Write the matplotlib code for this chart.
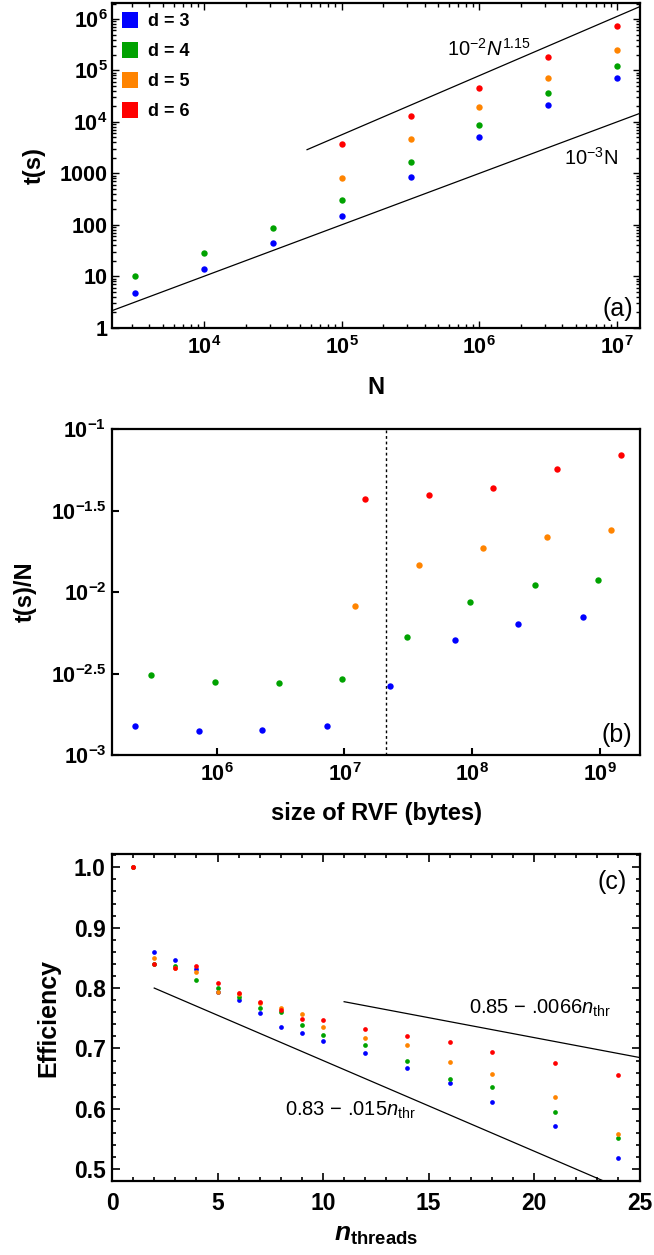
import numpy as np
import matplotlib
matplotlib.use("Agg")
import matplotlib.pyplot as plt
from matplotlib.ticker import (FixedLocator, FixedFormatter, MultipleLocator,
                               LogLocator, NullLocator, NullFormatter)
from matplotlib.lines import Line2D

plt.rcParams.update({
    "font.family": ["Liberation Sans", "DejaVu Sans"],
    "mathtext.fontset": "custom",
    "mathtext.rm": "Liberation Sans",
    "mathtext.it": "Liberation Sans:italic",
    "mathtext.bf": "Liberation Sans:bold",
    "mathtext.bfit": "Liberation Sans:italic:bold",
})

COLORS = ["#0000ff", "#00a200", "#ff8400", "#ff0000"]
LABELS = ["d = 3", "d = 4", "d = 5", "d = 6"]

# ---- panel (a): run time vs N ----
N_all = [3162, 1e4, 31623, 1e5, 316228, 1e6, 3162278, 1e7]
N_big = [1e5, 316228, 1e6, 3162278, 1e7]
t_d3 = [4.7, 13.8, 45, 150, 850, 5150, 21000, 72000]
t_d4 = [10, 28, 88, 300, 1690, 8800, 36000, 124000]
t_d5 = [825, 4700, 19200, 70000, 250000]
t_d6 = [3700, 12800, 45000, 185000, 730000]

# ---- panel (b): time per point vs RVF size ----
size_d3 = [2.28e5, 7.21e5, 2.28e6, 7.29e6, 2.29e7, 7.28e7, 2.29e8, 7.29e8]
size_d4 = [3.08e5, 9.64e5, 3.06e6, 9.64e6, 3.07e7, 9.66e7, 3.08e8, 9.68e8]
size_d5 = [1.21e7, 3.85e7, 1.21e8, 3.85e8, 1.21e9]
size_d6 = [1.46e7, 4.6e7, 1.45e8, 4.57e8, 1.45e9]
tN_d3 = [1.51e-3, 1.41e-3, 1.43e-3, 1.51e-3, 2.67e-3, 5.07e-3, 6.40e-3, 7.0e-3]
tN_d4 = [3.10e-3, 2.80e-3, 2.76e-3, 2.95e-3, 5.32e-3, 8.65e-3, 1.11e-2, 1.19e-2]
tN_d5 = [8.2e-3, 1.47e-2, 1.88e-2, 2.17e-2, 2.40e-2]
tN_d6 = [3.71e-2, 3.96e-2, 4.36e-2, 5.68e-2, 6.98e-2]
cache_size = 2.1e7

# ---- panel (c): parallel efficiency ----
n_thr = [1, 2, 3, 4, 5, 6, 7, 8, 9, 10, 12, 14, 16, 18, 21, 24]
eff_d3 = [1.0, 0.859, 0.846, 0.832, 0.793, 0.781, 0.759, 0.735, 0.726, 0.712,
          0.692, 0.667, 0.642, 0.612, 0.572, 0.518]
eff_d4 = [1.0, 0.840, 0.836, 0.813, 0.800, 0.786, 0.767, 0.760, 0.739, 0.722,
          0.705, 0.680, 0.650, 0.636, 0.594, 0.552]
eff_d5 = [1.0, 0.850, 0.833, 0.826, 0.794, 0.790, 0.776, 0.767, 0.757, 0.736,
          0.717, 0.705, 0.678, 0.658, 0.620, 0.558]
eff_d6 = [1.0, 0.840, 0.833, 0.836, 0.808, 0.792, 0.777, 0.764, 0.749, 0.747,
          0.732, 0.721, 0.711, 0.694, 0.676, 0.656]

TICK_FS = 15.5
LABEL_FS = 17

fig = plt.figure(figsize=(6.54, 12.55), dpi=100)


def frame(ax):
    for s in ax.spines.values():
        s.set_linewidth(1.6)


# ================= (a) =================
ax = fig.add_axes([0.1713, 0.7389, 0.8066, 0.2587])
frame(ax)
ax.set_xscale("log")
ax.set_yscale("log")
ax.set_xlim(2143, 1.46e7)
ax.set_ylim(1, 2.05e6)

xs = [(N_all, t_d3), (N_all, t_d4), (N_big, t_d5), (N_big, t_d6)]
for (x, y), c in zip(xs, COLORS):
    ax.plot(x, y, "o", color=c, markersize=4.6, markeredgewidth=0)

xl = np.array(ax.get_xlim())
ax.plot(xl, 1e-3 * xl, color="black", lw=0.9)
xu = np.array([5.6e4, xl[1]])
ax.plot(xu, 1e-2 * xu ** 1.15, color="black", lw=0.9)
ax.text(5.83e5, 2.6e5, r"$\mathrm{10^{-2}}\mathit{N}^{\mathrm{1.15}}$",
        fontsize=14.5, va="center", ha="left")
ax.text(4.13e6, 2000, r"$\mathrm{10^{-3}N}$", fontsize=14.5, va="center", ha="left")

ax.xaxis.set_major_locator(FixedLocator([1e4, 1e5, 1e6, 1e7]))
ax.xaxis.set_major_formatter(FixedFormatter(
    [r"$\mathbf{10^{4}}$", r"$\mathbf{10^{5}}$", r"$\mathbf{10^{6}}$", r"$\mathbf{10^{7}}$"]))
ax.xaxis.set_minor_locator(LogLocator(base=10, subs=np.arange(2, 10), numticks=20))
ax.xaxis.set_minor_formatter(NullFormatter())
ax.yaxis.set_major_locator(FixedLocator([1, 10, 100, 1000, 1e4, 1e5, 1e6]))
ax.yaxis.set_major_formatter(FixedFormatter(
    ["1", "10", "100", "1000", r"$\mathbf{10^{4}}$", r"$\mathbf{10^{5}}$", r"$\mathbf{10^{6}}$"]))
ax.yaxis.set_minor_locator(LogLocator(base=10, subs=np.arange(2, 10), numticks=20))
ax.yaxis.set_minor_formatter(NullFormatter())
ax.tick_params(which="both", direction="in", top=True, right=True, width=1)
ax.tick_params(which="major", length=5, labelsize=TICK_FS)
ax.tick_params(which="minor", length=3)
ax.tick_params(axis="x", pad=6)
ax.tick_params(axis="y", pad=3)
for lab in ax.get_yticklabels() + ax.get_xticklabels():
    lab.set_fontweight("bold")
ax.set_xlabel("N", fontsize=LABEL_FS, fontweight="bold", labelpad=12)
ax.set_ylabel("t(s)", fontsize=LABEL_FS, fontweight="bold", labelpad=10)
ax.text(0.988, 0.02, "(a)", transform=ax.transAxes, fontsize=18, ha="right", va="bottom")

handles = [Line2D([], [], marker="s", linestyle="none", color=c, markersize=11,
                  markeredgewidth=0) for c in COLORS]
leg = ax.legend(handles, LABELS, loc="upper left", frameon=False,
                prop={"weight": "bold", "size": 13}, handlelength=0.9,
                handletextpad=0.55, labelspacing=0.72, borderaxespad=0.25,
                borderpad=0.3)

# ================= (b) =================
ax = fig.add_axes([0.172, 0.3984, 0.806, 0.2595])
frame(ax)
ax.set_xscale("log")
ax.set_yscale("log")
ax.set_xlim(1.53e5, 2.04e9)
ax.set_ylim(1e-3, 1e-1)
pts = [(size_d3, tN_d3), (size_d4, tN_d4), (size_d5, tN_d5), (size_d6, tN_d6)]
for (x, y), c in zip(pts, COLORS):
    ax.plot(x, y, "o", color=c, markersize=4.6, markeredgewidth=0)
ax.axvline(cache_size, color="black", lw=1, linestyle=(0, (2, 2)))

ax.xaxis.set_major_locator(FixedLocator([1e6, 1e7, 1e8, 1e9]))
ax.xaxis.set_major_formatter(FixedFormatter(
    [r"$\mathbf{10^{6}}$", r"$\mathbf{10^{7}}$", r"$\mathbf{10^{8}}$", r"$\mathbf{10^{9}}$"]))
ax.xaxis.set_minor_locator(NullLocator())
ax.yaxis.set_major_locator(FixedLocator([1e-3, 10 ** -2.5, 1e-2, 10 ** -1.5, 1e-1]))
ax.yaxis.set_major_formatter(FixedFormatter(
    [r"$\mathbf{10^{-3}}$", r"$\mathbf{10^{-2.5}}$", r"$\mathbf{10^{-2}}$",
     r"$\mathbf{10^{-1.5}}$", r"$\mathbf{10^{-1}}$"]))
ax.yaxis.set_minor_locator(NullLocator())
ax.tick_params(which="major", direction="in", length=5, width=1.5, labelsize=TICK_FS)
ax.tick_params(axis="x", pad=6)
ax.tick_params(axis="y", pad=4.5)
ax.set_xlabel("size of RVF (bytes)", fontsize=LABEL_FS, fontweight="bold", labelpad=11)
ax.set_ylabel("t(s)/N", fontsize=LABEL_FS, fontweight="bold", labelpad=10)
ax.text(0.985, 0.025, "(b)", transform=ax.transAxes, fontsize=18, ha="right", va="bottom")

# ================= (c) =================
ax = fig.add_axes([0.1713, 0.0590, 0.8066, 0.2603])
frame(ax)
ax.set_xlim(0, 25)
ax.set_ylim(0.4806, 1.0215)
effs = [eff_d3, eff_d4, eff_d5, eff_d6]
for y, c in zip(effs, COLORS):
    ax.plot(n_thr, y, "o", color=c, markersize=3.4, markeredgewidth=0)

nl = np.array([2, 25])
ax.plot(nl, 0.83 - 0.015 * nl, color="black", lw=0.9)
nu = np.array([11, 25])
ax.plot(nu, 0.85 - 0.0066 * nu, color="black", lw=0.9)
ax.text(16.9, 0.767, "0.85 \u2212 .0066$\\mathit{n}_{\\mathrm{thr}}$", fontsize=14.5,
        va="center", ha="left")
ax.text(8.18, 0.598, "0.83 \u2212 .015$\\mathit{n}_{\\mathrm{thr}}$", fontsize=14.5,
        va="center", ha="left")

ax.xaxis.set_major_locator(MultipleLocator(5))
ax.xaxis.set_minor_locator(MultipleLocator(1))
ax.yaxis.set_major_locator(FixedLocator([0.5, 0.6, 0.7, 0.8, 0.9, 1.0]))
ax.yaxis.set_major_formatter(FixedFormatter(["0.5", "0.6", "0.7", "0.8", "0.9", "1.0"]))
ax.yaxis.set_minor_locator(MultipleLocator(0.02))
ax.tick_params(which="both", direction="in", top=True, right=True, width=1.2)
ax.tick_params(which="major", length=6, labelsize=TICK_FS + 1)
ax.tick_params(which="minor", length=3)
ax.tick_params(axis="x", pad=8)
ax.tick_params(axis="y", pad=4.5)
for lab in ax.get_yticklabels() + ax.get_xticklabels():
    lab.set_fontweight("bold")
ax.set_xlabel(r"$\mathbfit{n}_{\mathbf{threads}}$", fontsize=LABEL_FS + 2, labelpad=6)
ax.set_ylabel("Efficiency", fontsize=LABEL_FS + 1, fontweight="bold", labelpad=10)
ax.text(0.976, 0.952, "(c)", transform=ax.transAxes, fontsize=18, ha="right", va="top")

fig.savefig("out.png", dpi=100)
